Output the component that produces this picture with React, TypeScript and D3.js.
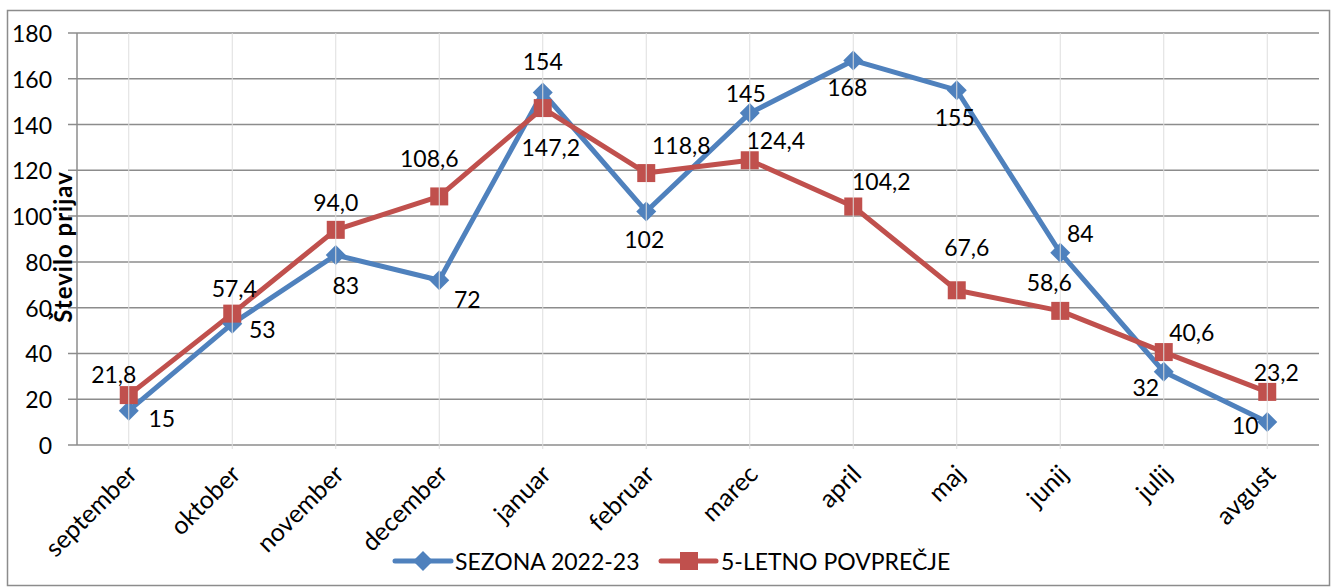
import React, { useEffect } from "react";
import * as d3 from "d3";

const months = ["september", "oktober", "november", "december", "januar", "februar", "marec", "april", "maj", "junij", "julij", "avgust"];
const seasonValues = [15, 53, 83, 72, 154, 102, 145, 168, 155, 84, 32, 10];
const avgValues = [21.8, 57.4, 94.0, 108.6, 147.2, 118.8, 124.4, 104.2, 67.6, 58.6, 40.6, 23.2];
const yTicks = [0, 20, 40, 60, 80, 100, 120, 140, 160, 180];
const seriesNames = ["SEZONA 2022-23", "5-LETNO POVPREČJE"];

// label offsets (dx, dy) relative to each point
const seasonLabelOffsets: [number, number][] = [[33, 7], [30, 5], [10, 30], [28, 19], [0, -32], [-2, 27], [-4, -20], [-6, 27], [-2, 27], [20, -20], [-18, 15], [-22, 3]];
const avgLabelOffsets: [number, number][] = [[-15, -21], [2, -26], [0, -28], [-10, -38], [8, 39], [35, -28], [26, -20], [28, -25], [10, -43], [-11, -29], [28, -20], [9, -20]];

const BLUE = "#4F81BD";
const RED = "#C0504D";
const GRID = "#8c8c8c";
const FONT = "Lato, 'Open Sans', sans-serif";

const fmtAvg = (v: number) => v.toFixed(1).replace(".", ",");

export default function App() {
  useEffect(() => {
    document.body.style.margin = "0";
    document.body.style.overflow = "hidden";
  }, []);

  const W = 1336, H = 588;
  const x = d3.scaleBand<string>().domain(months).range([77, 1319]);
  const cx = (m: string) => (x(m) as number) + x.bandwidth() / 2;
  const y = d3.scaleLinear().domain([0, 180]).range([445, 33]);

  const line = d3.line<number>().x((_, i) => cx(months[i])).y((v) => y(v));

  const diamond = (px: number, py: number, r: number) => `M${px},${py - r}L${px + r},${py}L${px},${py + r}L${px - r},${py}Z`;
  const LY = 561;

  return (
    <svg width={W} height={H} style={{ display: "block", fontFamily: FONT }}>
      <rect x={0} y={0} width={W} height={H} fill="#fff" />
      <rect x={7.5} y={10.5} width={1322} height={575} fill="none" stroke={GRID} strokeWidth={1.5} />
      {yTicks.map((t) => (
        <line key={t} x1={68} x2={1319} y1={y(t)} y2={y(t)} stroke={GRID} strokeWidth={1.5} />
      ))}
      <line x1={77} x2={77} y1={y(180)} y2={y(0)} stroke={GRID} strokeWidth={1.5} />
      {yTicks.map((t) => (
        <text key={t} x={52} y={y(t)} textAnchor="end" dominantBaseline="central" fontSize={23} fill="#000">
          {t}
        </text>
      ))}
      <text transform="translate(62,247) rotate(-90)" textAnchor="middle" dominantBaseline="central" fontSize={24} letterSpacing={1} fontWeight="bold" fill="#000">
        Število prijav
      </text>
      <path d={line(seasonValues) || ""} fill="none" stroke={BLUE} strokeWidth={5} strokeLinejoin="round" />
      <path d={line(avgValues) || ""} fill="none" stroke={RED} strokeWidth={5} strokeLinejoin="round" />
      {seasonValues.map((v, i) => (
        <path key={"d" + i} d={diamond(cx(months[i]), y(v), 10)} fill={BLUE} />
      ))}
      {avgValues.map((v, i) => (
        <rect key={"s" + i} x={cx(months[i]) - 9} y={y(v) - 9} width={18} height={18} fill={RED} />
      ))}
      {months.map((m) => (
        <line key={m} x1={cx(m)} x2={cx(m)} y1={y(180)} y2={y(0) + 4} stroke="#dedede" strokeWidth={1} />
      ))}
      {seasonValues.map((v, i) => (
        <text key={"ls" + i} x={cx(months[i]) + seasonLabelOffsets[i][0]} y={y(v) + seasonLabelOffsets[i][1]} textAnchor="middle" dominantBaseline="central" fontSize={23} fill="#000">
          {v}
        </text>
      ))}
      {avgValues.map((v, i) => (
        <text key={"la" + i} x={cx(months[i]) + avgLabelOffsets[i][0]} y={y(v) + avgLabelOffsets[i][1]} textAnchor="middle" dominantBaseline="central" fontSize={23} fill="#000">
          {fmtAvg(v)}
        </text>
      ))}
      {months.map((m) => (
        <text key={"x" + m} transform={`translate(${cx(m) - 3},${463}) rotate(-45)`} textAnchor="end" dy="0.72em" fontSize={25} fill="#000">
          {m}
        </text>
      ))}
      <line x1={395} x2={451} y1={LY} y2={LY} stroke={BLUE} strokeWidth={5} strokeLinecap="round" />
      <path d={diamond(423, LY, 10)} fill={BLUE} />
      <text x={455} y={LY} dominantBaseline="central" fontSize={23} fill="#000">{seriesNames[0]}</text>
      <line x1={661} x2={716} y1={LY} y2={LY} stroke={RED} strokeWidth={5} strokeLinecap="round" />
      <rect x={680} y={LY - 9} width={18} height={18} fill={RED} />
      <text x={721} y={LY} dominantBaseline="central" fontSize={23} fill="#000">{seriesNames[1]}</text>
    </svg>
  );
}
